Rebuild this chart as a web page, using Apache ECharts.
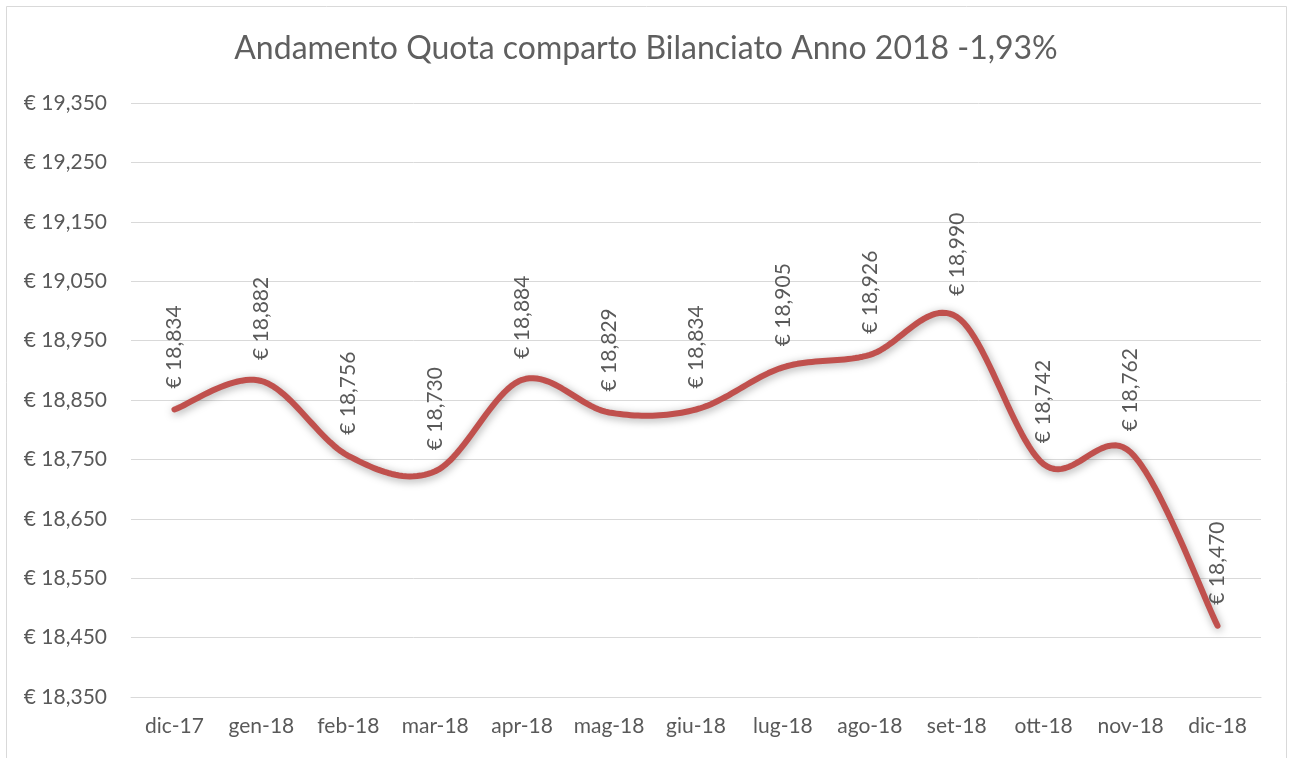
<!DOCTYPE html>
<html>
<head>
<meta charset="utf-8">
<script src="https://cdn.jsdelivr.net/npm/echarts@6/dist/echarts.min.js"></script>
<style>
html,body{margin:0;padding:0;background:#fff;}
#chart{width:1292px;height:758px;}
</style>
</head>
<body>
<div id="chart"></div>
<script>
const titleText = 'Andamento Quota comparto Bilanciato Anno 2018 -1,93%';
const categories = ['dic-17','gen-18','feb-18','mar-18','apr-18','mag-18','giu-18','lug-18','ago-18','set-18','ott-18','nov-18','dic-18'];
const quota = [18.834, 18.882, 18.756, 18.730, 18.884, 18.829, 18.834, 18.905, 18.926, 18.990, 18.742, 18.762, 18.470];
const yMin = 18.35, yMax = 19.35, yStep = 0.1;

function euro(v){ return '€ ' + Number(v).toFixed(3).replace('.', ','); }

// Excel-style smoothed line (Catmull-Rom through the points), positions from the axes via api.coord
function renderSmooth(params, api){
  if (params.dataIndex !== 0) return null;
  const pts = quota.map((v, i) => api.coord([i, v]));
  const out = [];
  const n = pts.length, steps = 24;
  for (let i = 0; i < n - 1; i++){
    const p0 = pts[Math.max(i-1,0)], p1 = pts[i], p2 = pts[i+1], p3 = pts[Math.min(i+2,n-1)];
    const c1 = [p1[0] + (p2[0]-p0[0])/6, p1[1] + (p2[1]-p0[1])/6];
    const c2 = [p2[0] - (p3[0]-p1[0])/6, p2[1] - (p3[1]-p1[1])/6];
    for (let s = 0; s <= steps; s++){
      if (i > 0 && s === 0) continue;
      const t = s/steps, u = 1-t;
      out.push([
        u*u*u*p1[0] + 3*u*u*t*c1[0] + 3*u*t*t*c2[0] + t*t*t*p2[0],
        u*u*u*p1[1] + 3*u*u*t*c1[1] + 3*u*t*t*c2[1] + t*t*t*p2[1]
      ]);
    }
  }
  return {
    type:'polyline', shape:{points:out},
    style:{fill:null, stroke:'#c0504d', lineWidth:6, lineCap:'round', lineJoin:'round',
      shadowColor:'rgba(0,0,0,0.35)', shadowBlur:8, shadowOffsetX:1, shadowOffsetY:2}
  };
}

const chart = echarts.init(document.getElementById('chart'), null, {renderer:'canvas'});
chart.setOption({
  backgroundColor:'#ffffff',
  animation:false,
  textStyle:{fontFamily:'Lato'},
  title:{
    text:titleText, left:'center', top:28,
    textStyle:{fontFamily:'Lato', fontSize:32, fontWeight:'normal', color:'#5f5f5f'}
  },
  graphic:[{type:'rect', shape:{x:6.5,y:6.5,width:1280,height:770}, style:{fill:'none', stroke:'#d9d9d9', lineWidth:1}, silent:true}],
  grid:{left:131, right:31, top:103, bottom:61, containLabel:false},
  xAxis:{
    type:'category', data:categories, boundaryGap:true,
    axisLine:{show:true, lineStyle:{color:'#d9d9d9', width:1}},
    axisTick:{show:false},
    axisLabel:{color:'#595959', fontSize:21, margin:19, interval:0, fontFamily:'Lato'}
  },
  yAxis:{
    type:'value', min:yMin, max:yMax, interval:yStep,
    axisLine:{show:false}, axisTick:{show:false},
    splitLine:{lineStyle:{color:'#d9d9d9', width:1}},
    axisLabel:{color:'#595959', fontSize:21, margin:24, fontFamily:'Lato', formatter:euro}
  },
  series:[{
    type:'custom', data:[[0, quota[0]]], renderItem:renderSmooth, z:2, silent:true
  },{
    type:'line', data:quota, z:3,
    symbol:'circle', symbolSize:0, showSymbol:true,
    lineStyle:{width:0, opacity:0},
    itemStyle:{color:'#c0504d'},
    label:{show:true, position:'top', rotate:90, align:'left', verticalAlign:'middle', distance:21,
      color:'#595959', fontSize:21, fontFamily:'Lato', formatter:p=>euro(p.value)}
  }]
});
</script>
</body>
</html>
